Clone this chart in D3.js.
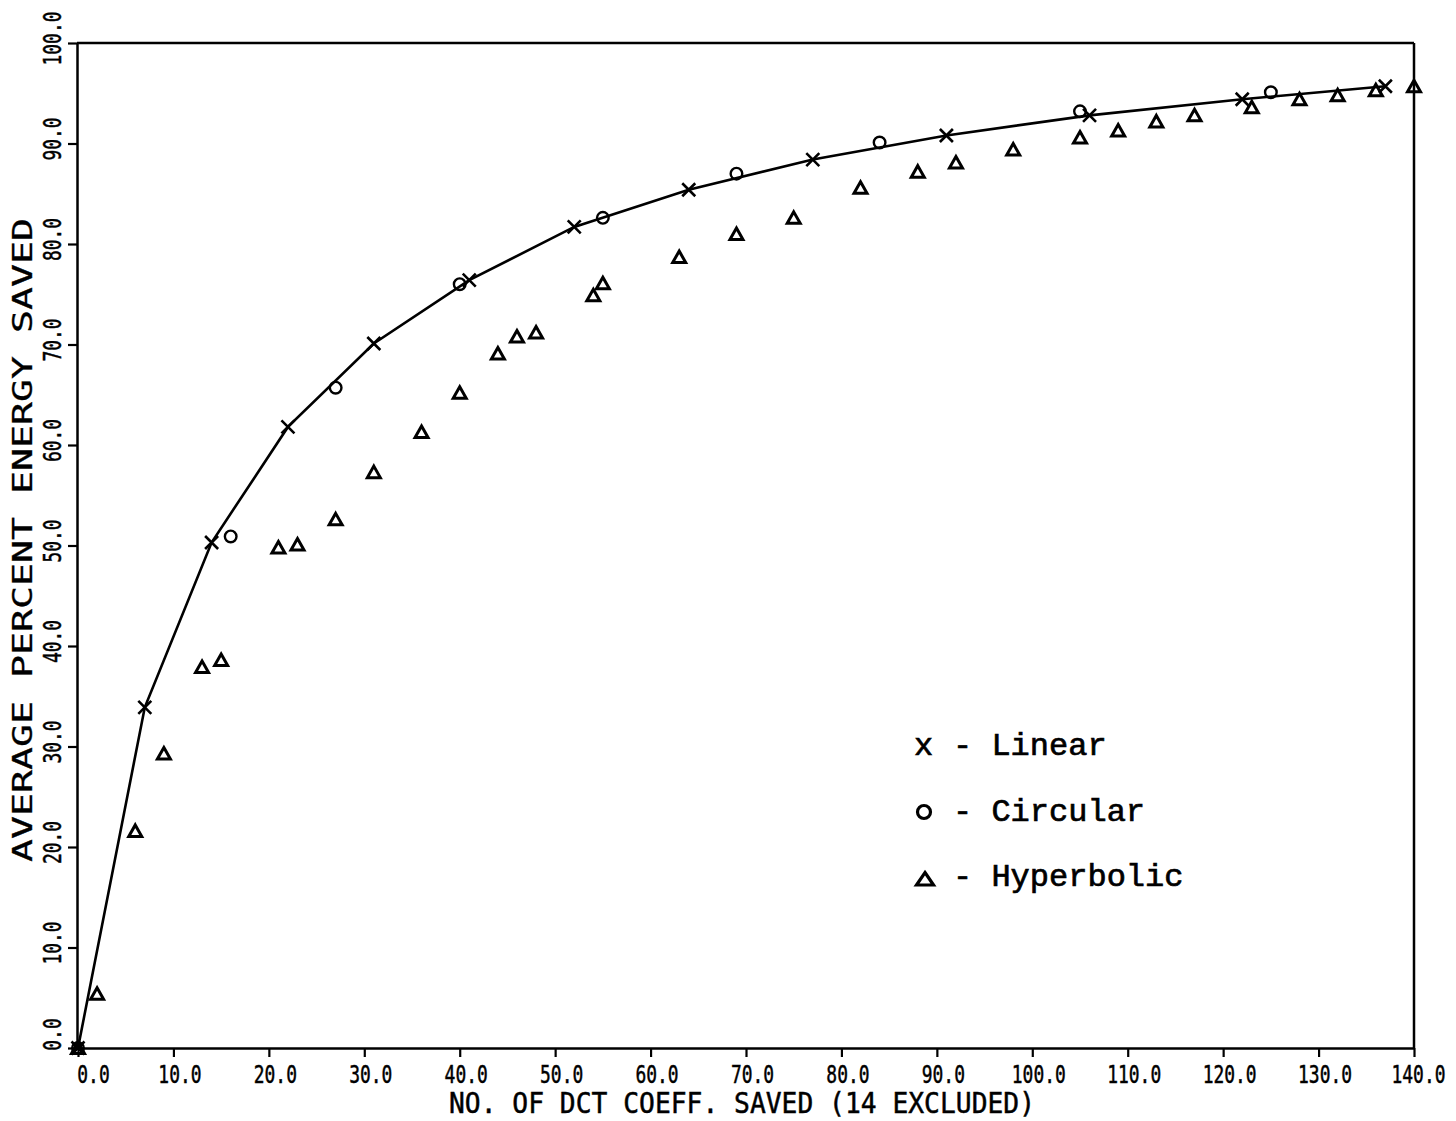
<!DOCTYPE html>
<html>
<head>
<meta charset="utf-8">
<script src="https://cdn.jsdelivr.net/npm/d3@7"></script>
<style>
  body { margin: 0; background: #fff; }
  svg { display: block; }
  .plotter { font-family: "DejaVu Sans Mono", monospace; fill: #000; stroke: #000; stroke-width: 0.5px; }
  .legend text { font-family: "Liberation Mono", "Courier New", monospace; font-size: 32px; fill: #000; stroke: #000; stroke-width: 0.7px; }
</style>
</head>
<body>
<svg id="chart" width="1456" height="1121"></svg>
<script>
// x = no. of DCT coefficients saved, y = average percent energy saved
const linearX = [0, 7, 14, 22, 31, 41, 52, 64, 77, 91, 106, 122, 137];
const linearY = [0, 33.9, 50.3, 61.8, 70.1, 76.4, 81.7, 85.4, 88.4, 90.8, 92.8, 94.4, 95.7];

const circularX = [0, 16, 27, 40, 55, 69, 84, 105, 125];
const circularY = [0, 50.9, 65.7, 76.0, 82.6, 87.0, 90.1, 93.2, 95.1];

const hyperX = [0, 2, 6, 9, 13, 15, 21, 23, 27, 31, 36, 40, 44, 46, 48, 54, 55, 63, 69, 75,
                82, 88, 92, 98, 105, 109, 113, 117, 123, 128, 132, 136, 140];
const hyperY = [0, 5.4, 21.6, 29.3, 37.9, 38.6, 49.8, 50.1, 52.6, 57.3, 61.3, 65.2, 69.1, 70.8, 71.2, 74.9, 76.1, 78.7, 81.0, 82.6,
                85.6, 87.2, 88.1, 89.4, 90.6, 91.3, 92.2, 92.8, 93.6, 94.4, 94.8, 95.3, 95.7];

const xTickVals = [0, 10, 20, 30, 40, 50, 60, 70, 80, 90, 100, 110, 120, 130, 140];
const yTickVals = [0, 10, 20, 30, 40, 50, 60, 70, 80, 90, 100];

const xTitle = 'NO. OF DCT COEFF. SAVED (14 EXCLUDED)';
const yTitle = 'AVERAGE PERCENT ENERGY SAVED';
const legendLabels = ['- Linear', '- Circular', '- Hyperbolic'];

const svg = d3.select('#chart');

const x = d3.scaleLinear().domain([0, 140]).range([78, 1414]);
const y = d3.scaleLinear().domain([0, 100]).range([1048, 43]);

const fmt = d3.format('.1f');

// x axis
const gx = svg.append('g')
    .attr('transform', `translate(0,${y(0)})`)
    .call(d3.axisBottom(x).tickValues(xTickVals).tickFormat(fmt).tickSize(9).tickSizeOuter(0));
gx.select('.domain').attr('stroke-width', 2.5);
gx.selectAll('.tick line').attr('stroke-width', 2.2);
gx.selectAll('.tick text')
    .attr('class', 'plotter')
    .attr('font-size', 25)
    .attr('y', 35)
    .attr('dy', 0)
    .attr('dx', d => fmt(d).length == 3 ? 15 : (d == 140 ? 4 : 6))
    .attr('textLength', d => fmt(d).length * 10.8)
    .attr('lengthAdjust', 'spacingAndGlyphs');

// y axis
const gy = svg.append('g')
    .attr('transform', `translate(${x(0) - 1},0)`)
    .call(d3.axisLeft(y).tickValues(yTickVals).tickFormat(fmt).tickSize(9).tickSizeOuter(0));
gy.select('.domain').attr('stroke-width', 2.5);
gy.selectAll('.tick line').attr('stroke-width', 2.2);
gy.selectAll('.tick text')
    .attr('class', 'plotter')
    .attr('font-size', 25)
    .attr('x', 0)
    .attr('dy', 0)
    .attr('transform', 'translate(-16,0) rotate(-90)')
    .attr('text-anchor', 'middle')
    .attr('dx', d => fmt(d).length == 3 ? 14 : 5)
    .attr('textLength', d => fmt(d).length * 10.8)
    .attr('lengthAdjust', 'spacingAndGlyphs');
svg.selectAll('.domain, .tick line').attr('stroke', '#000');

// frame top and right
svg.append('line')
    .attr('x1', x(0) - 1).attr('x2', x(140))
    .attr('y1', y(100)).attr('y2', y(100))
    .attr('stroke', '#000').attr('stroke-width', 2.5);
svg.append('line')
    .attr('x1', x(140)).attr('x2', x(140))
    .attr('y1', y(100)).attr('y2', y(0))
    .attr('stroke', '#000').attr('stroke-width', 2.5);

// titles
svg.append('text')
    .attr('class', 'plotter')
    .attr('x', 742).attr('y', 1113)
    .attr('text-anchor', 'middle')
    .attr('font-size', 29)
    .attr('textLength', 586)
    .attr('lengthAdjust', 'spacingAndGlyphs')
    .text(xTitle);

svg.append('text')
    .attr('class', 'plotter')
    .attr('transform', 'translate(32,540) rotate(-90)')
    .attr('text-anchor', 'middle')
    .attr('font-size', 26)
    .attr('textLength', 644)
    .attr('lengthAdjust', 'spacingAndGlyphs')
    .style('stroke-width', '0.3px')
    .text(yTitle);

// linear curve
const linearPts = linearX.map((d, i) => [d, linearY[i]]);
const circularPts = circularX.map((d, i) => [d, circularY[i]]);
const hyperPts = hyperX.map((d, i) => [d, hyperY[i]]);

const line = d3.line().x(d => x(d[0])).y(d => y(d[1]));
svg.append('path')
    .datum(linearPts)
    .attr('d', line)
    .attr('fill', 'none')
    .attr('stroke', '#000')
    .attr('stroke-width', 2.6);

// markers
const crossPath = 'M-6.5,-6.5L6.5,6.5M-6.5,6.5L6.5,-6.5';
const triPath = 'M0,-6L6.5,5.5L-6.5,5.5Z';

svg.append('g').selectAll('path')
    .data(linearPts)
    .join('path')
    .attr('transform', d => `translate(${x(d[0])},${y(d[1])})`)
    .attr('d', crossPath)
    .attr('stroke', '#000')
    .attr('stroke-width', 2.6)
    .attr('fill', 'none');

svg.append('g').selectAll('circle')
    .data(circularPts)
    .join('circle')
    .attr('cx', d => x(d[0]))
    .attr('cy', d => y(d[1]))
    .attr('r', 5.8)
    .attr('stroke', '#000')
    .attr('stroke-width', 2.4)
    .attr('fill', 'none');

svg.append('g').selectAll('path')
    .data(hyperPts)
    .join('path')
    .attr('transform', d => `translate(${x(d[0])},${y(d[1])})`)
    .attr('d', triPath)
    .attr('stroke', '#000')
    .attr('stroke-width', 3)
    .attr('stroke-linejoin', 'miter')
    .attr('fill', 'none');

// legend
const legend = svg.append('g').attr('class', 'legend');
const legendY = [755, 821, 886];
legend.selectAll('text.lab')
    .data(legendLabels)
    .join('text')
    .attr('class', 'lab')
    .attr('x', 953)
    .attr('y', (d, i) => legendY[i])
    .text(d => d);

legend.append('text')
    .attr('x', 914).attr('y', legendY[0])
    .text('x');
legend.append('circle')
    .attr('cx', 924).attr('cy', legendY[1] - 9)
    .attr('r', 6.5)
    .attr('stroke', '#000').attr('stroke-width', 3.2)
    .attr('fill', 'none');
legend.append('path')
    .attr('transform', `translate(925,${legendY[2] - 7})`)
    .attr('d', 'M0,-6.5L8.5,6L-8.5,6Z')
    .attr('stroke', '#000').attr('stroke-width', 3.2)
    .attr('fill', 'none');
</script>
</body>
</html>
